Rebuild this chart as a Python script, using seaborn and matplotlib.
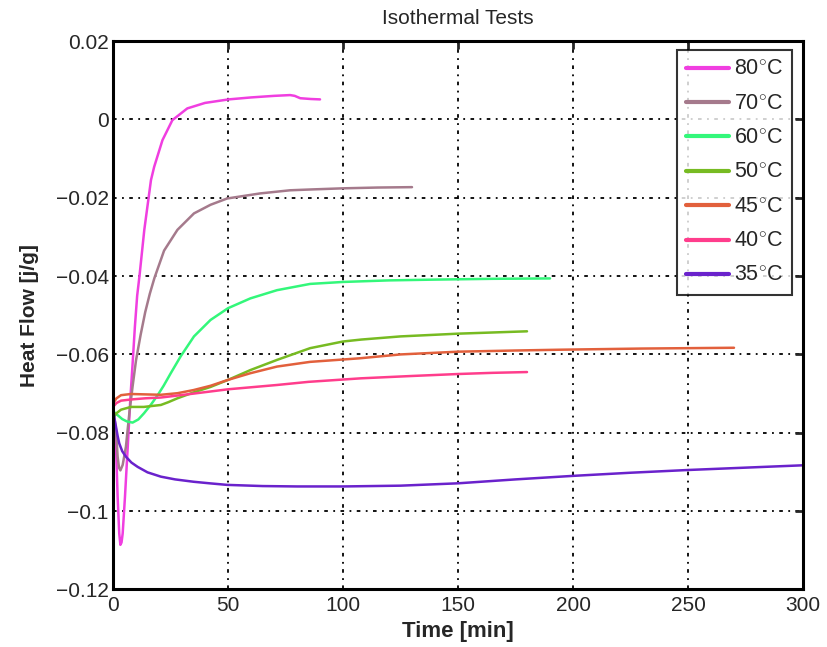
import numpy as np
import pandas as pd
import matplotlib
matplotlib.use("Agg")
import matplotlib.pyplot as plt
import seaborn as sns

# ---- data ----
t80 = [0, 1.3, 2.0, 2.7, 3.2, 3.7, 4.2, 5.2, 6.4, 7.5, 8.5, 9.5, 10.5, 11.5, 13.6, 16.5, 17.9, 21.5, 25.8,
       32.3, 40, 50.3, 60, 70, 77, 79, 81.4, 86, 90]
h80 = [-0.0737, -0.0835, -0.0963, -0.1057, -0.1086, -0.1080, -0.1057, -0.0963, -0.0836, -0.0716, -0.0625,
       -0.0530, -0.0450, -0.0400, -0.0282, -0.0155, -0.0121, -0.0053, -0.0002, 0.0028, 0.0042, 0.0051,
       0.0056, 0.0060, 0.0062, 0.0060, 0.0054, 0.0052, 0.0051]

t70 = [0, 1.3, 2.0, 2.6, 3.2, 4.2, 5.6, 7.1, 8.5, 10, 12, 14, 16, 18, 22.2, 28, 35.2, 42.4, 49.6, 64,
       77, 85.7, 100, 115, 130]
h70 = [-0.0737, -0.0793, -0.0861, -0.0889, -0.0896, -0.0882, -0.0836, -0.0750, -0.0682, -0.0615, -0.0550,
       -0.0492, -0.0445, -0.0405, -0.0335, -0.0282, -0.0240, -0.0218, -0.0202, -0.0189, -0.0181, -0.0179,
       -0.0176, -0.0174, -0.0173]

t60 = [0, 2, 4, 6, 8.5, 11, 13.5, 16.5, 19.3, 22, 25.1, 29.4, 35.2, 42.4, 50, 59.7, 71.3, 85.7, 100, 120,
       140, 165, 190]
h60 = [-0.0745, -0.0755, -0.0765, -0.0771, -0.0774, -0.0766, -0.0750, -0.0728, -0.0705, -0.0680, -0.0648,
       -0.0605, -0.0554, -0.0512, -0.0482, -0.0457, -0.0436, -0.0420, -0.0415, -0.0411, -0.0409, -0.0407,
       -0.0406]

t50 = [0, 1.5, 3.5, 7.8, 13.4, 20.8, 24, 28, 35, 42.4, 50, 59.7, 71.3, 85.7, 100, 108, 125, 150, 165, 180]
h50 = [-0.0762, -0.0750, -0.0741, -0.0734, -0.0734, -0.0729, -0.0722, -0.0712, -0.0697, -0.0683, -0.0665,
       -0.0640, -0.0614, -0.0584, -0.0567, -0.0562, -0.0554, -0.0547, -0.0544, -0.0541]

t45 = [0, 1.5, 3.5, 7.8, 14, 20.8, 28, 35, 42.4, 50, 59.7, 71.3, 85.7, 107, 125, 150, 175, 194, 230, 270]
h45 = [-0.0725, -0.0712, -0.0704, -0.0701, -0.0702, -0.0703, -0.0699, -0.0691, -0.0680, -0.0665, -0.0648,
       -0.0631, -0.0619, -0.0610, -0.0600, -0.0593, -0.0590, -0.0588, -0.0585, -0.0583]

t40 = [0, 1.5, 3.5, 7.8, 14, 20.8, 28, 35, 50, 71.3, 85, 107.8, 130, 150, 165, 180]
h40 = [-0.0734, -0.0724, -0.0718, -0.0715, -0.0712, -0.0710, -0.0705, -0.0700, -0.0689, -0.0678, -0.0670,
       -0.0661, -0.0655, -0.0650, -0.0647, -0.0645]

t35 = [0, 0.6, 1.3, 2.0, 2.7, 4, 5.6, 8, 10.7, 15, 20.8, 27, 35, 42, 49.6, 65, 80, 100, 125, 150, 175, 200,
       225, 250, 275, 300]
h35 = [-0.0737, -0.0762, -0.0785, -0.0808, -0.0827, -0.0847, -0.0861, -0.0876, -0.0887, -0.0901, -0.0912,
       -0.0919, -0.0925, -0.0929, -0.0933, -0.0936, -0.0937, -0.0937, -0.0935, -0.0929, -0.0919, -0.0910,
       -0.0902, -0.0895, -0.0889, -0.0883]

labels = ["80$^{\\circ}$C", "70$^{\\circ}$C", "60$^{\\circ}$C", "50$^{\\circ}$C",
          "45$^{\\circ}$C", "40$^{\\circ}$C", "35$^{\\circ}$C"]
colors = ["#f03ee0", "#a57a8c", "#33f77a", "#77bb22", "#e2603c", "#ff3d8c", "#6a22cc"]
series_t = [t80, t70, t60, t50, t45, t40, t35]
series_h = [h80, h70, h60, h50, h45, h40, h35]

xticks = [0, 50, 100, 150, 200, 250, 300]
yticks = [-0.12, -0.1, -0.08, -0.06, -0.04, -0.02, 0, 0.02]
yticklabels = ["\u22120.12", "\u22120.1", "\u22120.08", "\u22120.06", "\u22120.04", "\u22120.02", "0", "0.02"]

frames = []
for lab, tt, hh in zip(labels, series_t, series_h):
    frames.append(pd.DataFrame({"Time": tt, "Heat": hh, "Series": lab}))
df = pd.concat(frames, ignore_index=True)

sns.set_style("white")
plt.rcParams["font.family"] = ["Liberation Sans", "DejaVu Sans"]
plt.rcParams["mathtext.fontset"] = "custom"
plt.rcParams["mathtext.rm"] = "Liberation Sans"

fig = plt.figure(figsize=(8.28, 6.47), dpi=100)
ax = fig.add_axes([0.1365, 0.0889, 0.8333, 0.8477])

sns.lineplot(data=df, x="Time", y="Heat", hue="Series", hue_order=labels,
             palette=colors, sort=False, estimator=None, linewidth=1.8, ax=ax)

ax.set_xlim(0, 300)
ax.set_ylim(-0.12, 0.02)
ax.set_xticks(xticks)
ax.set_xticklabels([str(v) for v in xticks])
ax.set_yticks(yticks)
ax.set_yticklabels(yticklabels)
ax.grid(True, color="black", linestyle=(0, (2, 3, 1, 3)), linewidth=1.3)
ax.tick_params(direction="in", length=6, width=2, top=True, right=True, labelsize=15)
ax.tick_params(axis="x", pad=5)
ax.tick_params(axis="y", pad=3)
for s in ax.spines.values():
    s.set_linewidth(2.2)
    s.set_color("black")

ax.set_xlabel("Time [min]", fontsize=16, fontweight="bold", labelpad=4)
ax.set_ylabel("Heat Flow [j/g]", fontsize=15, fontweight="bold", labelpad=12)
ax.set_title("Isothermal Tests", fontsize=15, pad=12)

leg = ax.legend(loc="upper right", bbox_to_anchor=(0.991, 0.991), fontsize=15.5, frameon=True,
                fancybox=False, edgecolor="black", handlelength=2.0, labelspacing=0.62,
                borderpad=0.42, handletextpad=0.25, borderaxespad=0.2)
leg.get_frame().set_linewidth(1.5)
for line in leg.get_lines():
    line.set_linewidth(3)

fig.savefig("out.png", dpi=100)
